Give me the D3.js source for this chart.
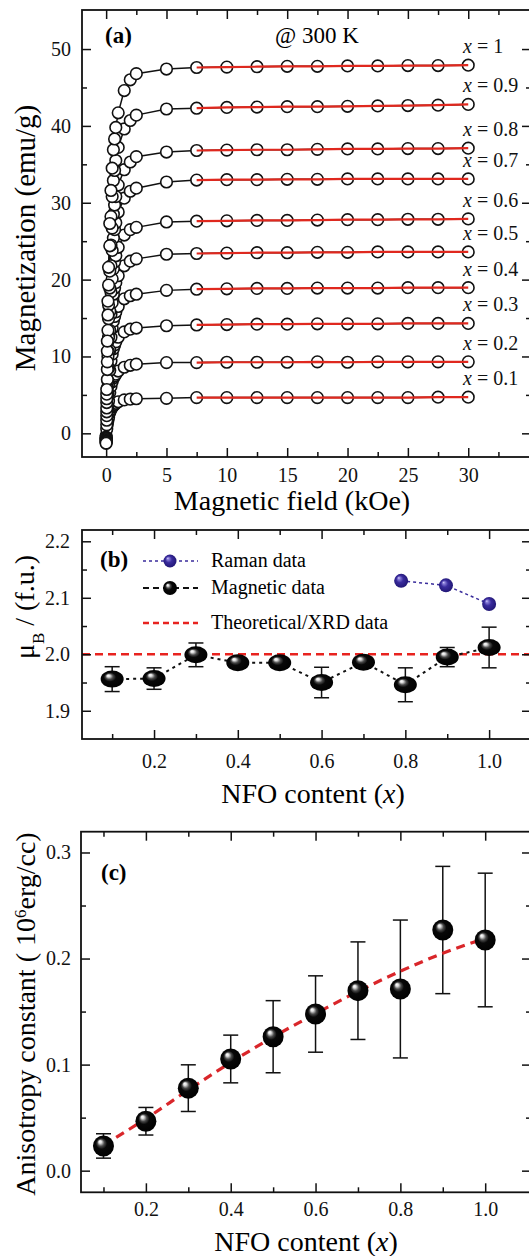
<!DOCTYPE html>
<html>
<head>
<meta charset="utf-8">
<script src="https://cdnjs.cloudflare.com/ajax/libs/d3/7.8.5/d3.min.js"></script>
<style>
body { margin: 0; background: #fff; }
svg { display: block; }
</style>
</head>
<body>
<svg id="svg" width="529" height="1256"></svg>
<script>
// ---- panel (a): M-H loops at 300 K ----
var fieldValues = [0, 0.05, 0.1, 0.15, 0.2, 0.3, 0.4, 0.5, 0.6, 0.7, 0.8, 1.0, 1.5, 2.0, 2.5,
    5, 7.5, 10, 12.5, 15, 17.5, 20, 22.5, 25, 27.5, 30];
var sampleLabels = ['0.1', '0.2', '0.3', '0.4', '0.5', '0.6', '0.7', '0.8', '0.9', '1'];
var magX01 = [-0.3, 0.55, 1.2, 1.7, 2.1, 2.7, 3.1, 3.4, 3.6, 3.75, 3.9, 4.1, 4.35, 4.45, 4.5,
    4.55, 4.65, 4.65, 4.65, 4.65, 4.65, 4.65, 4.65, 4.65, 4.7, 4.7];
var magX02 = [-0.5, 1.1, 2.3, 3.4, 4.2, 5.3, 6.1, 6.7, 7.2, 7.45, 7.7, 8.1, 8.6, 8.85, 9.0,
    9.2, 9.2, 9.25, 9.25, 9.25, 9.3, 9.25, 9.3, 9.3, 9.3, 9.3];
var magX03 = [-0.6, 1.7, 3.6, 5.2, 6.4, 8.2, 9.4, 10.3, 11.0, 11.5, 11.9, 12.5, 13.2, 13.55, 13.7,
    14.0, 14.1, 14.15, 14.2, 14.2, 14.25, 14.25, 14.25, 14.3, 14.3, 14.3];
var magX04 = [-0.7, 2.3, 4.7, 6.8, 8.5, 10.8, 12.5, 13.7, 14.6, 15.2, 15.8, 16.5, 17.5, 17.9, 18.1,
    18.6, 18.75, 18.8, 18.85, 18.85, 18.9, 18.9, 18.9, 18.95, 18.95, 18.95];
var magX05 = [-0.8, 2.8, 5.9, 8.5, 10.6, 13.4, 15.5, 17.0, 18.1, 18.9, 19.6, 20.5, 21.8, 22.4, 22.7,
    23.3, 23.4, 23.45, 23.5, 23.5, 23.55, 23.55, 23.6, 23.6, 23.6, 23.6];
var magX06 = [-0.9, 3.3, 7.0, 10.0, 12.5, 15.9, 18.4, 20.1, 21.4, 22.3, 23.1, 24.2, 25.8, 26.5, 26.8,
    27.5, 27.6, 27.65, 27.7, 27.7, 27.75, 27.8, 27.8, 27.85, 27.85, 27.9];
var magX07 = [-1.0, 4.0, 8.3, 11.9, 14.9, 18.9, 21.8, 23.8, 25.4, 26.5, 27.4, 28.8, 30.6, 31.5, 31.9,
    32.7, 32.95, 33.0, 33.0, 33.05, 33.05, 33.1, 33.1, 33.1, 33.1, 33.1];
var magX08 = [-1.1, 4.5, 9.3, 13.4, 16.7, 21.1, 24.5, 26.7, 28.5, 29.7, 30.8, 32.3, 34.3, 35.3, 36.0,
    36.6, 36.8, 36.85, 36.9, 36.9, 36.95, 37.0, 37.0, 37.05, 37.05, 37.1];
var magX09 = [-1.2, 5.1, 10.7, 15.4, 19.3, 24.4, 28.2, 30.8, 32.9, 34.2, 35.5, 37.2, 39.6, 40.7, 41.4,
    42.2, 42.3, 42.4, 42.45, 42.5, 42.5, 42.55, 42.6, 42.65, 42.7, 42.8];
var magX10 = [-1.3, 5.7, 12.0, 17.2, 21.6, 27.3, 31.6, 34.5, 36.9, 38.3, 39.8, 41.7, 44.6, 46.0, 46.8,
    47.4, 47.6, 47.65, 47.7, 47.75, 47.75, 47.8, 47.8, 47.85, 47.85, 47.9];
var magSeries = [magX01, magX02, magX03, magX04, magX05, magX06, magX07, magX08, magX09, magX10];
var fitStartField = 7.5;

// ---- panel (b): moment per formula unit ----
var nfoContent = [0.1, 0.2, 0.3, 0.4, 0.5, 0.6, 0.7, 0.8, 0.9, 1.0];
var muBMagnetic = [1.956, 1.957, 1.999, 1.985, 1.985, 1.950, 1.986, 1.946, 1.995, 2.012];
var muBError = [0.022, 0.019, 0.021, 0.006, 0.006, 0.027, 0.006, 0.030, 0.017, 0.036];
var ramanContent = [0.79, 0.897, 1.0];
var muBRaman = [2.130, 2.122, 2.089];
var muBTheoretical = 2.0;
var legendNames = ['Raman data', 'Magnetic data', 'Theoretical/XRD data'];

// ---- panel (c): anisotropy constant ----
var anisotropy = [0.0233, 0.0466, 0.0778, 0.1053, 0.1263, 0.1477, 0.1697, 0.1713, 0.2269, 0.2175];
var anisotropyError = [0.0115, 0.013, 0.022, 0.0225, 0.034, 0.036, 0.046, 0.065, 0.060, 0.063];
var anisotropyFit = [0.024, 0.049, 0.076, 0.102, 0.126, 0.148, 0.169, 0.188, 0.205, 0.219];

var serif = 'Liberation Serif, Times New Roman, serif';
var svg = d3.select('svg').attr('font-family', serif);
var defs = svg.append('defs');

// shiny ball markers
function ballGradient(id, stops) {
    var gr = defs.append('radialGradient').attr('id', id)
        .attr('cx', '0.5').attr('cy', '0.5').attr('r', '0.55')
        .attr('fx', '0.32').attr('fy', '0.28');
    stops.forEach(function (s) {
        gr.append('stop').attr('offset', s[0]).attr('stop-color', s[1]);
    });
}
ballGradient('blackBall', [[0, '#ffffff'], [0.12, '#e0e0e0'], [0.3, '#4a4a4a'], [0.48, '#080808'], [1, '#000']]);
ballGradient('blueBall', [[0, '#d8d2ff'], [0.15, '#8a7fd8'], [0.45, '#3a2c9e'], [1, '#1e1470']]);

// frame + inward ticks on all four sides
function drawAxes(g, x, y, o) {
    var x0 = x.range()[0], x1 = x.range()[1], y0 = y.range()[0], y1 = y.range()[1];
    var sides = [
        {ax: d3.axisBottom, sc: x, tr: 'translate(0,' + y0 + ')', maj: o.xMajor, min: o.xMinor, lab: true},
        {ax: d3.axisTop, sc: x, tr: 'translate(0,' + y1 + ')', maj: o.xMajor, min: o.xMinor, lab: false},
        {ax: d3.axisLeft, sc: y, tr: 'translate(' + x0 + ',0)', maj: o.yMajor, min: o.yMinor, lab: true},
        {ax: d3.axisRight, sc: y, tr: 'translate(' + x1 + ',0)', maj: o.yMajor, min: o.yMinor, lab: false}
    ];
    sides.forEach(function (s, i) {
        var horiz = i < 2;
        var a = s.ax(s.sc).tickValues(s.maj).tickSizeInner(-9).tickSizeOuter(0)
            .tickPadding(horiz ? o.xPad : o.yPad)
            .tickFormat(s.lab ? (horiz ? o.xFmt : o.yFmt) : '');
        var ga = g.append('g').attr('transform', s.tr).call(a)
            .attr('font-family', serif).attr('font-size', 20);
        ga.select('.domain').remove();
        g.append('g').attr('transform', s.tr)
            .call(s.ax(s.sc).tickValues(s.min).tickSizeInner(-5).tickSizeOuter(0).tickFormat(''))
            .select('.domain').remove();
        ga.selectAll('text').attr('fill', '#111');
    });
    g.selectAll('.tick line').attr('stroke', '#111').attr('stroke-width', 1.5);
    g.append('rect').attr('x', x0).attr('y', y1).attr('width', x1 - x0).attr('height', y0 - y1)
        .attr('fill', 'none').attr('stroke', '#111').attr('stroke-width', 1.8);
}

// ================= (a) =================
var xa = d3.scaleLinear().domain([-2, 35.2]).range([82, 531]);
var ya = d3.scaleLinear().domain([-3.08, 55.08]).range([457, 10]);
var ga = svg.append('g');

var lineA = d3.line()
    .x(function (d) { return xa(d[0]); })
    .y(function (d) { return ya(d[1]); });

magSeries.forEach(function (ms) {
    var pts = fieldValues.map(function (h, i) { return [h, ms[i]]; });
    ga.append('path').attr('d', lineA(pts)).attr('fill', 'none')
        .attr('stroke', '#111').attr('stroke-width', 1.5);
});
magSeries.forEach(function (ms) {
    ga.selectAll(null).data(fieldValues.map(function (h, i) { return [h, ms[i]]; }))
        .enter().append('circle')
        .attr('cx', function (d) { return xa(d[0]); })
        .attr('cy', function (d) { return ya(d[1]); })
        .attr('r', 5.8)
        .attr('fill', '#fff').attr('stroke', '#111').attr('stroke-width', 1.6);
});
// red high-field fits over the circles
magSeries.forEach(function (ms) {
    var pts = fieldValues.map(function (h, i) { return [h, ms[i]]; })
        .filter(function (d) { return d[0] >= fitStartField; });
    ga.append('path').attr('d', lineA(pts)).attr('fill', 'none')
        .attr('stroke', '#e0281e').attr('stroke-width', 2.2);
});
// x = ... labels
magSeries.forEach(function (ms, i) {
    var t = ga.append('text').attr('x', 463).attr('y', ya(ms[ms.length - 1]) - 12)
        .attr('font-size', 20).attr('fill', '#111');
    t.append('tspan').attr('font-style', 'italic').text('x');
    t.append('tspan').text(' = ' + sampleLabels[i]);
});

drawAxes(ga, xa, ya, {
    xMajor: [0, 5, 10, 15, 20, 25, 30], xMinor: [2.5, 7.5, 12.5, 17.5, 22.5, 27.5, 32.5],
    yMajor: [0, 10, 20, 30, 40, 50], yMinor: [5, 15, 25, 35, 45],
    xPad: 11, yPad: 11, xFmt: d3.format('d'), yFmt: d3.format('d')
});

ga.append('text').attr('x', 105).attr('y', 43).attr('font-weight', 'bold')
    .attr('font-size', 23).text('(a)');
ga.append('text').attr('x', 275).attr('y', 43).attr('font-size', 23).text('@ 300 K');
ga.append('text').attr('x', 292).attr('y', 510).attr('text-anchor', 'middle')
    .attr('font-size', 28).text('Magnetic field (kOe)');
ga.append('text').attr('transform', 'translate(35,238) rotate(-90)').attr('text-anchor', 'middle')
    .attr('font-size', 29).text('Magnetization (emu/g)');

// ================= (b) =================
var xb = d3.scaleLinear().domain([0.028, 1.1]).range([82, 531]);
var yb = d3.scaleLinear().domain([1.85, 2.22]).range([739, 530]);
var gb = svg.append('g');

gb.append('line').attr('x1', 82).attr('x2', 531)
    .attr('y1', yb(muBTheoretical)).attr('y2', yb(muBTheoretical))
    .attr('stroke', '#e8231f').attr('stroke-width', 2.5).attr('stroke-dasharray', '8,5');

var lineB = d3.line()
    .x(function (d) { return xb(d[0]); })
    .y(function (d) { return yb(d[1]); });
var magPts = nfoContent.map(function (c, i) { return [c, muBMagnetic[i], muBError[i]]; });
var ramPts = ramanContent.map(function (c, i) { return [c, muBRaman[i]]; });

gb.append('path').attr('d', lineB(magPts)).attr('fill', 'none')
    .attr('stroke', '#111').attr('stroke-width', 2).attr('stroke-dasharray', '3,4');
gb.append('path').attr('d', lineB(ramPts)).attr('fill', 'none')
    .attr('stroke', '#3a2d9c').attr('stroke-width', 1.5).attr('stroke-dasharray', '3,3');

function errorBars(g, pts, x, y, cap) {
    var e = g.selectAll(null).data(pts).enter().append('g')
        .attr('stroke', '#111').attr('stroke-width', 1.5);
    e.append('line')
        .attr('x1', function (d) { return x(d[0]); }).attr('x2', function (d) { return x(d[0]); })
        .attr('y1', function (d) { return y(d[1] - d[2]); }).attr('y2', function (d) { return y(d[1] + d[2]); });
    [1, -1].forEach(function (s) {
        e.append('line')
            .attr('x1', function (d) { return x(d[0]) - cap; }).attr('x2', function (d) { return x(d[0]) + cap; })
            .attr('y1', function (d) { return y(d[1] + s * d[2]); }).attr('y2', function (d) { return y(d[1] + s * d[2]); });
    });
}
errorBars(gb, magPts, xb, yb, 7.5);

gb.selectAll(null).data(magPts).enter().append('ellipse')
    .attr('cx', function (d) { return xb(d[0]); })
    .attr('cy', function (d) { return yb(d[1]); })
    .attr('rx', 11.5).attr('ry', 8.5).attr('fill', 'url(#blackBall)');
gb.selectAll(null).data(ramPts).enter().append('circle')
    .attr('cx', function (d) { return xb(d[0]); })
    .attr('cy', function (d) { return yb(d[1]); })
    .attr('r', 7).attr('fill', 'url(#blueBall)');

drawAxes(gb, xb, yb, {
    xMajor: [0.2, 0.4, 0.6, 0.8, 1.0], xMinor: [0.1, 0.3, 0.5, 0.7, 0.9],
    yMajor: [1.9, 2.0, 2.1, 2.2], yMinor: [1.95, 2.05, 2.15],
    xPad: 15, yPad: 12, xFmt: d3.format('.1f'), yFmt: d3.format('.1f')
});

// legend
var legY = [561, 588, 623];
var leg = gb.append('g');
leg.append('line').attr('x1', 143).attr('x2', 198).attr('y1', legY[0]).attr('y2', legY[0])
    .attr('stroke', '#3a2d9c').attr('stroke-width', 1.5).attr('stroke-dasharray', '3,3');
leg.append('circle').attr('cx', 170).attr('cy', legY[0]).attr('r', 6.5).attr('fill', 'url(#blueBall)');
leg.append('line').attr('x1', 143).attr('x2', 198).attr('y1', legY[1]).attr('y2', legY[1])
    .attr('stroke', '#111').attr('stroke-width', 2).attr('stroke-dasharray', '6,4');
leg.append('circle').attr('cx', 170).attr('cy', legY[1]).attr('r', 7).attr('fill', 'url(#blackBall)');
leg.append('line').attr('x1', 143).attr('x2', 198).attr('y1', legY[2]).attr('y2', legY[2])
    .attr('stroke', '#e8231f').attr('stroke-width', 2.5).attr('stroke-dasharray', '6,4');
leg.selectAll('text').data(legendNames).enter().append('text')
    .attr('x', 211).attr('y', function (d, i) { return legY[i] + 6; })
    .attr('font-size', 20).text(function (d) { return d; });

gb.append('text').attr('x', 100).attr('y', 567).attr('font-weight', 'bold')
    .attr('font-size', 23).text('(b)');
var tb = gb.append('text').attr('x', 313).attr('y', 803).attr('text-anchor', 'middle')
    .attr('font-size', 28);
tb.append('tspan').text('NFO content (');
tb.append('tspan').attr('font-style', 'italic').text('x');
tb.append('tspan').text(')');
var yt = gb.append('text').attr('transform', 'translate(34,607) rotate(-90)')
    .attr('text-anchor', 'middle').attr('font-size', 28);
yt.append('tspan').text('\u03bc');
yt.append('tspan').attr('baseline-shift', 'sub').attr('font-size', 17).text('B');
yt.append('tspan').text(' / (f.u.)');

// ================= (c) =================
var xc = d3.scaleLinear().domain([0.047, 1.108]).range([81, 531]);
var yc = d3.scaleLinear().domain([-0.0204, 0.3196]).range([1192.3, 831.7]);
var gc = svg.append('g');

var kPts = nfoContent.map(function (c, i) { return [c, anisotropy[i], anisotropyError[i]]; });
var fitPts = nfoContent.map(function (c, i) { return [c, anisotropyFit[i]]; });

errorBars(gc, kPts, xc, yc, 7.5);
gc.append('path')
    .attr('d', d3.line().curve(d3.curveMonotoneX)
        .x(function (d) { return xc(d[0]); }).y(function (d) { return yc(d[1]); })(fitPts))
    .attr('fill', 'none').attr('stroke', '#d9262a').attr('stroke-width', 3.2)
    .attr('stroke-dasharray', '9,6');
gc.selectAll(null).data(kPts).enter().append('circle')
    .attr('cx', function (d) { return xc(d[0]); })
    .attr('cy', function (d) { return yc(d[1]); })
    .attr('r', 10.5).attr('fill', 'url(#blackBall)');

drawAxes(gc, xc, yc, {
    xMajor: [0.2, 0.4, 0.6, 0.8, 1.0], xMinor: [0.1, 0.3, 0.5, 0.7, 0.9],
    yMajor: [0, 0.1, 0.2, 0.3], yMinor: [0.05, 0.15, 0.25],
    xPad: 10, yPad: 10, xFmt: d3.format('.1f'), yFmt: d3.format('.1f')
});

gc.append('text').attr('x', 101).attr('y', 880).attr('font-weight', 'bold')
    .attr('font-size', 23).text('(c)');
var tc = gc.append('text').attr('x', 306).attr('y', 1251).attr('text-anchor', 'middle')
    .attr('font-size', 28);
tc.append('tspan').text('NFO content (');
tc.append('tspan').attr('font-style', 'italic').text('x');
tc.append('tspan').text(')');
var yc2 = gc.append('text').attr('transform', 'translate(35,1014) rotate(-90)')
    .attr('text-anchor', 'middle').attr('font-size', 28);
yc2.append('tspan').text('Anisotropy constant ( 10');
yc2.append('tspan').attr('baseline-shift', 'super').attr('font-size', 17).text('6');
yc2.append('tspan').text('erg/cc)');
</script>
</body>
</html>
